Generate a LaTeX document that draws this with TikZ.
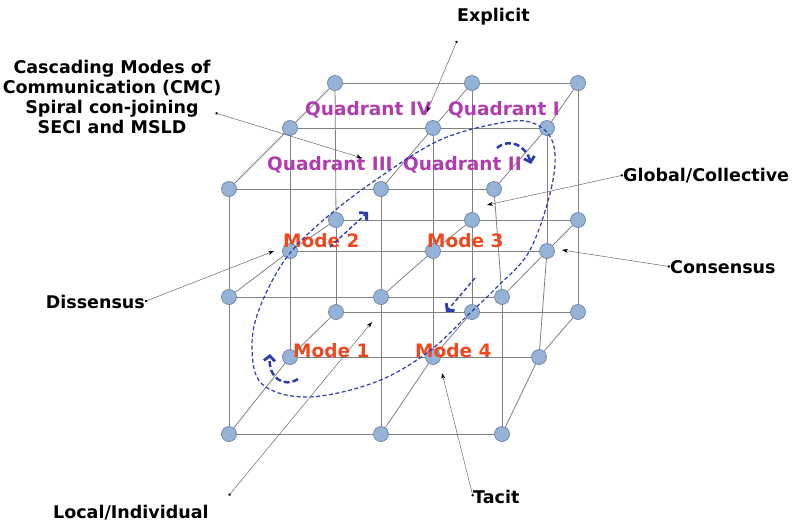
\documentclass[tikz,border=0pt]{standalone}
\usepackage{fontspec}
\setmainfont{DejaVu Sans}
\usepackage{tikz}
\usetikzlibrary{arrows,arrows.meta}
\definecolor{ballblue}{RGB}{149,179,215}
\definecolor{ballrim}{RGB}{110,130,165}
\definecolor{gridgray}{RGB}{128,128,128}
\definecolor{pointgray}{RGB}{105,105,105}
\definecolor{quadpurple}{RGB}{177,60,175}
\definecolor{modered}{RGB}{238,72,30}
\definecolor{spiralblue}{RGB}{45,60,175}

\begin{document}
\begin{tikzpicture}[x=1pt,y=-1pt,>={Stealth[length=6pt,width=4pt]}]
  \tikzstyle{ball}=[circle,fill=ballblue,draw=ballrim,line width=0.7pt,minimum size=15pt,inner sep=0pt]
  \tikzstyle{grid}=[draw=gridgray,line width=0.8pt]
  \tikzstyle{pointer}=[draw=pointgray,line width=0.5pt,{Circle[length=2.4pt,color=black]}-{Stealth[length=6pt,width=4pt,color=black]}]
  \tikzstyle{tag}=[inner sep=0pt,font=\fontsize{17.5}{20}\selectfont\bfseries]
  \tikzstyle{quad}=[inner sep=0pt,anchor=base west,text=quadpurple,font=\fontsize{18.5}{20}\selectfont\bfseries]
  \tikzstyle{mode}=[inner sep=0pt,anchor=base west,text=modered,font=\fontsize{18.5}{20}\selectfont\bfseries]
  \tikzstyle{spiral}=[draw=spiralblue,line width=1.2pt,dash pattern=on 4pt off 2.5pt]
  \tikzstyle{flow}=[draw=spiralblue,line width=1.4pt,dash pattern=on 4pt off 2.5pt,-{Straight Barb[length=5pt,width=11pt,line width=2.8pt]}]
  \tikzstyle{twist}=[draw=spiralblue,line width=2.5pt,dash pattern=on 6pt off 3pt,-{Straight Barb[length=5pt,width=11pt,line width=2.8pt]}]

  \useasboundingbox (0,0) rectangle (807,523);

  % front layer
  \node[ball] (F00) at (229,189) {};
  \node[ball] (F01) at (381,189) {};
  \node[ball] (F02) at (494,189) {};
  \node[ball] (F10) at (229,297) {};
  \node[ball] (F11) at (381,297) {};
  \node[ball] (F12) at (502,297) {};
  \node[ball] (F20) at (229,434) {};
  \node[ball] (F21) at (381,434) {};
  \node[ball] (F22) at (502,434) {};
  % middle layer
  \node[ball] (M00) at (290,128) {};
  \node[ball] (M01) at (433,128) {};
  \node[ball] (M02) at (547,128) {};
  \node[ball] (M10) at (290,251) {};
  \node[ball] (M11) at (433,251) {};
  \node[ball] (M12) at (547,251) {};
  \node[ball] (M20) at (290,357) {};
  \node[ball] (M21) at (433,357) {};
  \node[ball] (M22) at (539,357) {};
  % back layer
  \node[ball] (B00) at (335,83) {};
  \node[ball] (B01) at (472,83) {};
  \node[ball] (B02) at (578,83) {};
  \node[ball] (B10) at (336,220) {};
  \node[ball] (B11) at (472,220) {};
  \node[ball] (B12) at (578,220) {};
  \node[ball] (B20) at (336,312) {};
  \node[ball] (B21) at (472,312) {};
  \node[ball] (B22) at (578,312) {};

  \path[grid] (F00) edge (F01) edge (F10) edge (M00)
              (F01) edge (F02) edge (F11) edge (M01)
              (F02) edge (F12) edge (M02)
              (F10) edge (F11) edge (F20) edge (M10)
              (F11) edge (F12) edge (F21) edge (M11)
              (F12) edge (F22) edge (M12)
              (F20) edge (F21) edge (M20)
              (F21) edge (F22) edge (M21)
              (F22) edge (M22);
  \path[grid] (M00) edge (M01) edge (M10) edge (B00)
              (M01) edge (M02) edge (M11) edge (B01)
              (M02) edge (M12) edge (B02)
              (M10) edge (M11) edge (M20) edge (B10)
              (M11) edge (M12) edge (M21) edge (B11)
              (M12) edge (M22) edge (B12)
              (M20) edge (M21) edge (B20)
              (M21) edge (M22) edge (B21)
              (M22) edge (B22);
  \path[grid] (B00) edge (B01) edge (B10)
              (B01) edge (B02) edge (B11)
              (B02) edge (B12)
              (B10) edge (B11) edge (B20)
              (B11) edge (B12) edge (B21)
              (B12) edge (B22)
              (B20) edge (B21)
              (B21) edge (B22);

  % quadrants and modes
  \node[quad] (q4) at (305,115) {Quadrant IV};
  \node[quad] (q1) at (448,115) {Quadrant I};
  \node[quad] (q3) at (267,170) {Quadrant III};
  \node[quad] (q2) at (403,170) {Quadrant II};
  \node[mode] (m2) at (283,247) {Mode 2};
  \node[mode] (m3) at (427,247) {Mode 3};
  \node[mode] (m1) at (293,357) {Mode 1};
  \node[mode] (m4) at (415,357) {Mode 4};

  % spiral
  \draw[spiral] plot[smooth cycle,tension=0.6] coordinates {(553,143) (552,185) (530,250) (497,287)
    (470,313) (427,353) (373,383) (307,397) (262,384) (252,347) (260,307) (287,257)
    (327,217) (380,177) (440,140) (500,123) (533,123)};
  \coordinate (s2a) at (330,247);
  \coordinate (s2b) at (368,212);
  \coordinate (s3a) at (475,278);
  \coordinate (s3b) at (446,312);
  \draw[flow] (s2a) -- (s2b);
  \draw[flow] (s3a) -- (s3b);
  \coordinate (t1a) at (298,379);
  \coordinate (t1b) at (270,354);
  \coordinate (t2a) at (497,148);
  \coordinate (t2b) at (531,164);
  \draw[twist] (t1a) .. controls (284,388) and (268,378) .. (t1b);
  \draw[twist] (t2a) .. controls (510,137) and (526,146) .. (t2b);

  % outer labels
  \node[tag,anchor=base west] (explicit) at (457,21) {Explicit};
  \node[tag,anchor=north,align=center] (cmc) at (112,60) {Cascading Modes of\\Communication (CMC)\\Spiral con-joining\\SECI and MSLD};
  \node[tag,anchor=base west] (global) at (623,181) {Global/Collective};
  \node[tag,anchor=base west] (consensus) at (670,273) {Consensus};
  \node[tag,anchor=base east] (dissensus) at (145,308) {Dissensus};
  \node[tag,anchor=base west] (local) at (53,518) {Local/Individual};
  \node[tag,anchor=base west] (tacit) at (473,503) {Tacit};

  \coordinate (pEx) at (427,112);
  \coordinate (pCmc) at (362,158);
  \coordinate (pGlob) at (487,205);
  \coordinate (pCons) at (562,250);
  \coordinate (pDiss) at (274,251);
  \coordinate (pLoc) at (372,322);
  \coordinate (pTac) at (442,373);
  \draw[pointer] ([yshift=-16pt]explicit.south west) -- (pEx);
  \draw[pointer] ([xshift=-6pt,yshift=-16pt]cmc.east) -- (pCmc);
  \draw[pointer] (global.west) -- (pGlob);
  \draw[pointer] (consensus.west) -- (pCons);
  \draw[pointer] (dissensus.east) -- (pDiss);
  \draw[pointer] ([xshift=20pt,yshift=9pt]local.north east) -- (pLoc);
  \draw[pointer] (tacit.west) -- (pTac);
\end{tikzpicture}
\end{document}
